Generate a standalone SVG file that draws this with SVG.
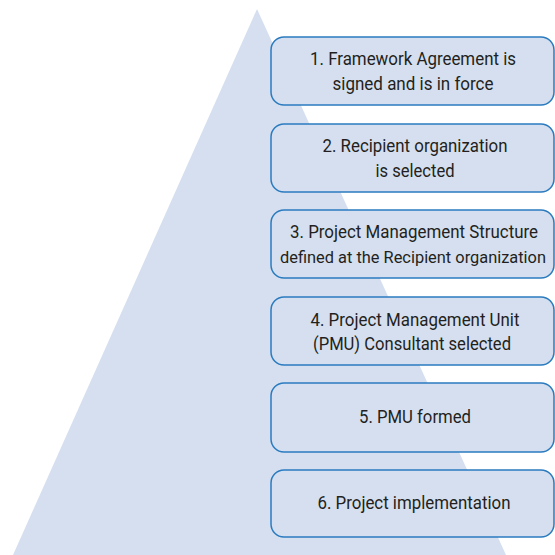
<svg xmlns="http://www.w3.org/2000/svg" width="555" height="555" viewBox="0 0 555 555">
<style>
.box{fill:#d5dff0;stroke:#2a7bbf;stroke-width:1.5}
.t{font-family:Roboto,"Liberation Sans",sans-serif;font-size:18px;fill:#231f20;text-anchor:middle}
</style>
<rect width="555" height="555" fill="#ffffff"/>
<polygon id="pyramid" points="257,9 13,555 506,555" fill="#d5dff0"/>
<g id="connectors"/>
<g id="n1"><rect class="box" x="271" y="37" width="283" height="68" rx="13"/>
<text class="t" x="413" y="65" textLength="206" lengthAdjust="spacingAndGlyphs">1. Framework Agreement is</text>
<text class="t" x="413" y="90" textLength="161" lengthAdjust="spacingAndGlyphs">signed and is in force</text></g>
<g id="n2"><rect class="box" x="271" y="124" width="283" height="68" rx="13"/>
<text class="t" x="415" y="152" textLength="185" lengthAdjust="spacingAndGlyphs">2. Recipient organization</text>
<text class="t" x="415" y="177" textLength="79" lengthAdjust="spacingAndGlyphs">is selected</text></g>
<g id="n3"><rect class="box" x="271" y="210" width="283" height="68" rx="13"/>
<text class="t" x="414" y="238" textLength="248" lengthAdjust="spacingAndGlyphs">3. Project Management Structure</text>
<text class="t" x="413" y="263" style="font-size:16.5px" textLength="266" lengthAdjust="spacingAndGlyphs">defined at the Recipient organization</text></g>
<g id="n4"><rect class="box" x="271" y="297" width="283" height="68" rx="13"/>
<text class="t" x="415" y="326" textLength="209" lengthAdjust="spacingAndGlyphs">4. Project Management Unit</text>
<text class="t" x="412" y="350" textLength="198" lengthAdjust="spacingAndGlyphs">(PMU) Consultant selected</text></g>
<g id="n5"><rect class="box" x="271" y="383" width="283" height="69" rx="13"/>
<text class="t" x="415" y="423" textLength="112" lengthAdjust="spacingAndGlyphs">5. PMU formed</text></g>
<g id="n6"><rect class="box" x="271" y="470" width="283" height="67" rx="13"/>
<text class="t" x="414" y="509" textLength="193" lengthAdjust="spacingAndGlyphs">6. Project implementation</text></g>
</svg>
